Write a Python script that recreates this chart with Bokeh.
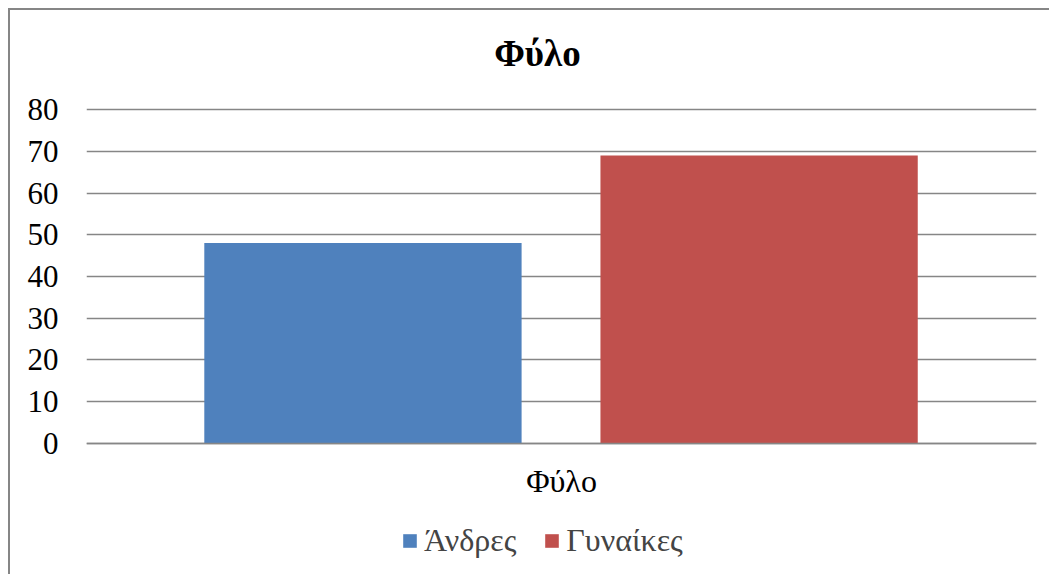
from bokeh.plotting import figure
from bokeh.models import FactorRange, Range1d, FixedTicker, Legend, LegendItem, ColumnDataSource, Label
from bokeh.transform import dodge
from bokeh.embed import file_html
from bokeh.resources import INLINE

categories = ["Φύλο"]
series = ["Άνδρες", "Γυναίκες"]
values_men = [48]
values_women = [69]
colors = ["#4F81BD", "#C0504D"]
y_ticks = [0, 10, 20, 30, 40, 50, 60, 70, 80]
title_text = "Φύλο"

FONT = "Liberation Serif"
GRAY = "#868686"

src = ColumnDataSource(dict(cat=categories, men=values_men, women=values_women))

p = figure(x_range=FactorRange(*categories), y_range=Range1d(-32.0, 103.8),
           width=1041, height=566, output_backend="svg", toolbar_location=None,
           min_border_left=76, min_border_right=15, min_border_top=0, min_border_bottom=0)
p.styles = {"border-left": "2px solid " + GRAY, "border-top": "2px solid " + GRAY,
            "margin-left": "8px", "margin-top": "8px"}

title = Label(x=0.4747, y=93.4, text=title_text, text_align="center", text_baseline="alphabetic",
              text_font=FONT, text_font_size="37px", text_font_style="bold", text_color="black")
p.add_layout(title)

r1 = p.vbar(x=dodge("cat", -0.209, range=p.x_range), top="men", width=0.334, source=src,
            color=colors[0], line_color=None)
r2 = p.vbar(x=dodge("cat", 0.208, range=p.x_range), top="women", width=0.334, source=src,
            color=colors[1], line_color=None)

p.outline_line_color = None
p.xgrid.grid_line_color = None
p.ygrid.grid_line_color = GRAY
p.ygrid.grid_line_width = 1.7
p.yaxis.ticker = FixedTicker(ticks=y_ticks)
p.yaxis.axis_line_color = None
p.yaxis.major_tick_line_color = None
p.yaxis.minor_tick_line_color = None
p.yaxis.major_tick_out = 0
p.yaxis.major_label_standoff = 28
p.yaxis.major_label_text_font = FONT
p.yaxis.major_label_text_font_size = "31px"
p.yaxis.major_label_text_color = "black"

p.xaxis.fixed_location = 0
p.xaxis.axis_line_color = GRAY
p.xaxis.axis_line_width = 1.7
p.xaxis.major_tick_line_color = None
p.xaxis.major_tick_out = 0
p.xaxis.major_label_standoff = 20
p.xaxis.major_label_text_font = FONT
p.xaxis.major_label_text_font_size = "32px"
p.xaxis.major_label_text_color = "black"

legend = Legend(items=[LegendItem(label=series[0], renderers=[r1]),
                       LegendItem(label=series[1], renderers=[r2])],
                orientation="horizontal", location=(315, 17),
                margin=0, padding=0, spacing=27, label_standoff=6,
                glyph_width=17, glyph_height=17,
                label_text_font=FONT, label_text_font_size="32px",
                border_line_color=None, background_fill_alpha=0)
p.add_layout(legend, "center")

open("out.html", "w").write(file_html(p, INLINE))
